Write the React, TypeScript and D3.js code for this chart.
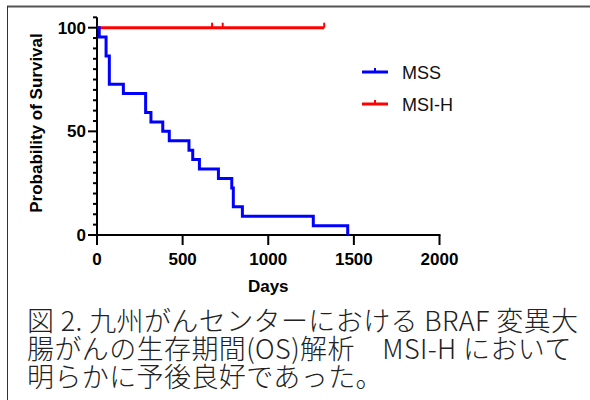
import React, { useEffect, useRef } from "react";
import * as d3 from "d3";

// MSS group: days at each event and survival (%) after it
const mssDays = [0, 13, 53, 72, 154, 284, 315, 384, 422, 537, 559, 598, 709, 787, 796, 849, 1263, 1464];
const mssSurvival = [100, 95.5, 86.4, 72.7, 68.2, 59.1, 54.5, 50, 45.5, 40.9, 36.4, 31.8, 27.3, 22.7, 13.6, 9.1, 4.5, 0];

// MSI-H group: no events, censored patients only
const msihDays = [0, 1327];
const msihSurvival = [100, 100];
const msihCensored = [672, 734, 1327];

const xTicks = [0, 500, 1000, 1500, 2000];
const yTicks = [0, 50, 100];

const seriesNames = ["MSS", "MSI-H"];
const seriesColors = ["#0000ff", "#ff0000"];

const captionLines = [
    "図 2. 九州がんセンターにおける BRAF 変異大",
    "腸がんの生存期間(OS)解析　MSI-H において",
    "明らかに予後良好であった。",
];

const App = () => {
    const svgRef = useRef<SVGSVGElement>(null);
    const width = 590;
    const height = 400;

    useEffect(() => {
        const svg = d3.select(svgRef.current);
        svg.selectAll("*").remove();

        const font = "'Liberation Sans', Arial, sans-serif";
        const x = d3.scaleLinear().domain([0, 2000]).range([97, 439.5]);
        const y = d3.scaleLinear().domain([0, 100]).range([235, 27.7]);

        // frame (top and left edges only)
        svg.append("line").attr("x1", 7).attr("x2", width).attr("y1", 6.5).attr("y2", 6.5)
            .attr("stroke", "#555").attr("stroke-width", 2);
        svg.append("line").attr("x1", 7.5).attr("x2", 7.5).attr("y1", 6).attr("y2", height)
            .attr("stroke", "#333").attr("stroke-width", 1);

        // y axis with minor ticks every 5
        const yAxis = svg.append("g");
        yAxis.append("line").attr("x1", x(0)).attr("x2", x(0)).attr("y1", y(105)).attr("y2", y(0))
            .attr("stroke", "#000").attr("stroke-width", 2);
        d3.range(0, 106, 5).forEach((v) => {
            const major = yTicks.includes(v);
            yAxis.append("line").attr("x1", x(0) - (major ? 9 : 4)).attr("x2", x(0))
                .attr("y1", y(v)).attr("y2", y(v)).attr("stroke", "#000").attr("stroke-width", 2);
        });
        yAxis.selectAll("text").data(yTicks).join("text")
            .attr("x", x(0) - 11).attr("y", (d) => y(d) + 6)
            .attr("text-anchor", "end").attr("font-family", font).attr("font-weight", "bold")
            .attr("font-size", 17).text((d) => d);

        // x axis
        const xAxis = svg.append("g");
        xAxis.append("line").attr("x1", x(0) - 1).attr("x2", x(2000) + 1).attr("y1", y(0)).attr("y2", y(0))
            .attr("stroke", "#000").attr("stroke-width", 2);
        xAxis.selectAll("line.tick").data(xTicks).join("line").attr("class", "tick")
            .attr("x1", (d) => x(d)).attr("x2", (d) => x(d)).attr("y1", y(0)).attr("y2", y(0) + 10)
            .attr("stroke", "#000").attr("stroke-width", 2);
        xAxis.selectAll("text").data(xTicks).join("text")
            .attr("x", (d) => x(d)).attr("y", y(0) + 30)
            .attr("text-anchor", "middle").attr("font-family", font).attr("font-weight", "bold")
            .attr("font-size", 17).text((d) => d);

        // axis titles
        svg.append("text").attr("x", (x(0) + x(2000)) / 2).attr("y", 292)
            .attr("text-anchor", "middle").attr("font-family", font).attr("font-weight", "bold")
            .attr("font-size", 17).text("Days");
        svg.append("text").attr("transform", "translate(42,123) rotate(-90)")
            .attr("text-anchor", "middle").attr("font-family", font).attr("font-weight", "bold")
            .attr("font-size", 17).text("Probability of Survival");

        const line = d3.line<number>().curve(d3.curveStepAfter);

        // MSI-H (red) first, MSS drawn over it
        svg.append("path")
            .attr("d", line.x((_, i) => x(msihDays[i])).y((d) => y(d))(msihSurvival))
            .attr("fill", "none").attr("stroke", seriesColors[1]).attr("stroke-width", 3);
        svg.selectAll("line.cens").data(msihCensored).join("line").attr("class", "cens")
            .attr("x1", (d) => x(d)).attr("x2", (d) => x(d)).attr("y1", y(100)).attr("y2", y(100) - 5)
            .attr("stroke", seriesColors[1]).attr("stroke-width", 2);

        svg.append("path")
            .attr("d", line.x((_, i) => x(mssDays[i])).y((d) => y(d))(mssSurvival))
            .attr("fill", "none").attr("stroke", seriesColors[0]).attr("stroke-width", 3);

        // legend
        const legend = svg.append("g").attr("transform", "translate(362,72)");
        seriesNames.forEach((name, i) => {
            const g = legend.append("g").attr("transform", `translate(0,${i * 32})`);
            g.append("line").attr("x1", 0).attr("x2", 26).attr("stroke", seriesColors[i]).attr("stroke-width", 3);
            g.append("line").attr("x1", 13).attr("x2", 13).attr("y1", 0).attr("y2", -4)
                .attr("stroke", seriesColors[i]).attr("stroke-width", 2);
            g.append("text").attr("x", 40).attr("y", 7).attr("font-family", font)
                .attr("font-size", 18).attr("fill", "#111").text(name);
        });

        // caption
        svg.append("g").selectAll("text").data(captionLines).join("text")
            .attr("x", 27).attr("y", (_, i) => 331 + i * 28)
            .attr("font-family", "'Noto Sans CJK JP', sans-serif").attr("font-size", 27)
            .attr("font-weight", 300).attr("letter-spacing", 0.4).attr("fill", "#222").text((d) => d);
    }, []);

    return (
        <svg ref={svgRef} width={width} height={height}
            style={{ position: "absolute", left: 0, top: 0, background: "#fff" }} />
    );
};

export default App;
